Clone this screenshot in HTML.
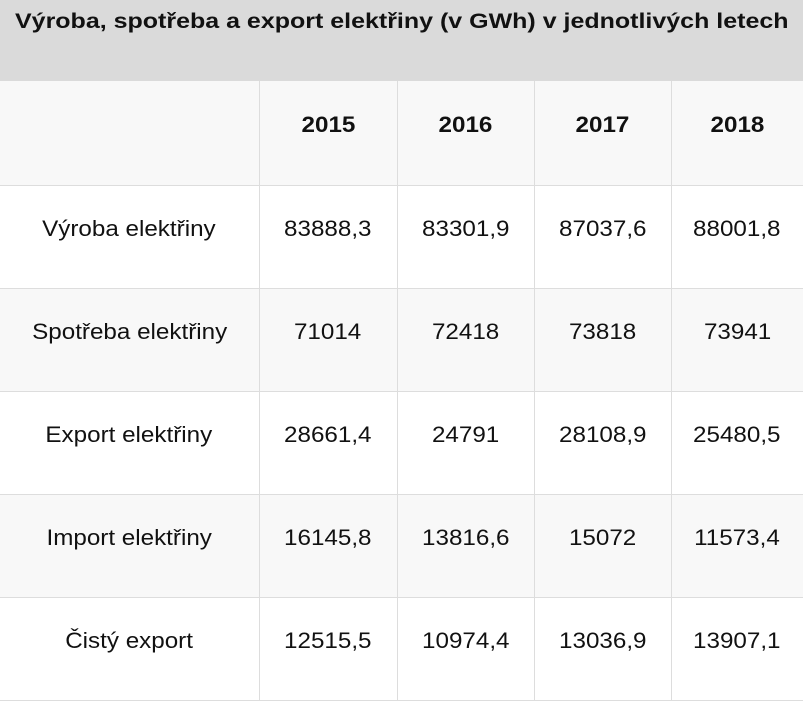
<!DOCTYPE html>
<html><head><meta charset="utf-8">
<style>
html,body{margin:0;padding:0;background:#fff;}
body{width:803px;height:689px;overflow:hidden;font-family:"Liberation Sans",sans-serif;color:#111;}
.title{position:absolute;left:0;top:0;width:803px;height:81px;background:#dadada;}
.title span{position:absolute;left:15px;top:10px;font-size:21px;font-weight:bold;white-space:nowrap;transform:scaleX(1.19);transform-origin:0 0;}
table{position:absolute;left:0;top:81px;border-collapse:collapse;table-layout:fixed;width:803px;}
td{height:103px;border-right:1px solid #ddd;border-bottom:1px solid #ddd;text-align:center;font-size:22px;padding:0 0 15px 0;box-sizing:border-box;}
td span{display:inline-block;transform:scaleX(1.1);}
td:last-child{border-right:none;}
tr.alt td{background:#f8f8f8;}
tr.head td{font-weight:bold;}
</style></head><body>
<div class="title"><span>Výroba, spotřeba a export elektřiny (v GWh) v jednotlivých letech</span></div>
<table>
<colgroup><col style="width:259px"><col style="width:138px"><col style="width:137px"><col style="width:137px"><col style="width:132px"></colgroup>
<tr class="head alt" style="height:104px"><td></td><td><span>2015</span></td><td><span>2016</span></td><td><span>2017</span></td><td><span>2018</span></td></tr>
<tr><td><span>Výroba elektřiny</span></td><td><span>83888,3</span></td><td><span>83301,9</span></td><td><span>87037,6</span></td><td><span>88001,8</span></td></tr>
<tr class="alt"><td><span>Spotřeba elektřiny</span></td><td><span>71014</span></td><td><span>72418</span></td><td><span>73818</span></td><td><span>73941</span></td></tr>
<tr><td><span>Export elektřiny</span></td><td><span>28661,4</span></td><td><span>24791</span></td><td><span>28108,9</span></td><td><span>25480,5</span></td></tr>
<tr class="alt"><td><span>Import elektřiny</span></td><td><span>16145,8</span></td><td><span>13816,6</span></td><td><span>15072</span></td><td><span>11573,4</span></td></tr>
<tr><td><span>Čistý export</span></td><td><span>12515,5</span></td><td><span>10974,4</span></td><td><span>13036,9</span></td><td><span>13907,1</span></td></tr>
</table>
</body></html>
